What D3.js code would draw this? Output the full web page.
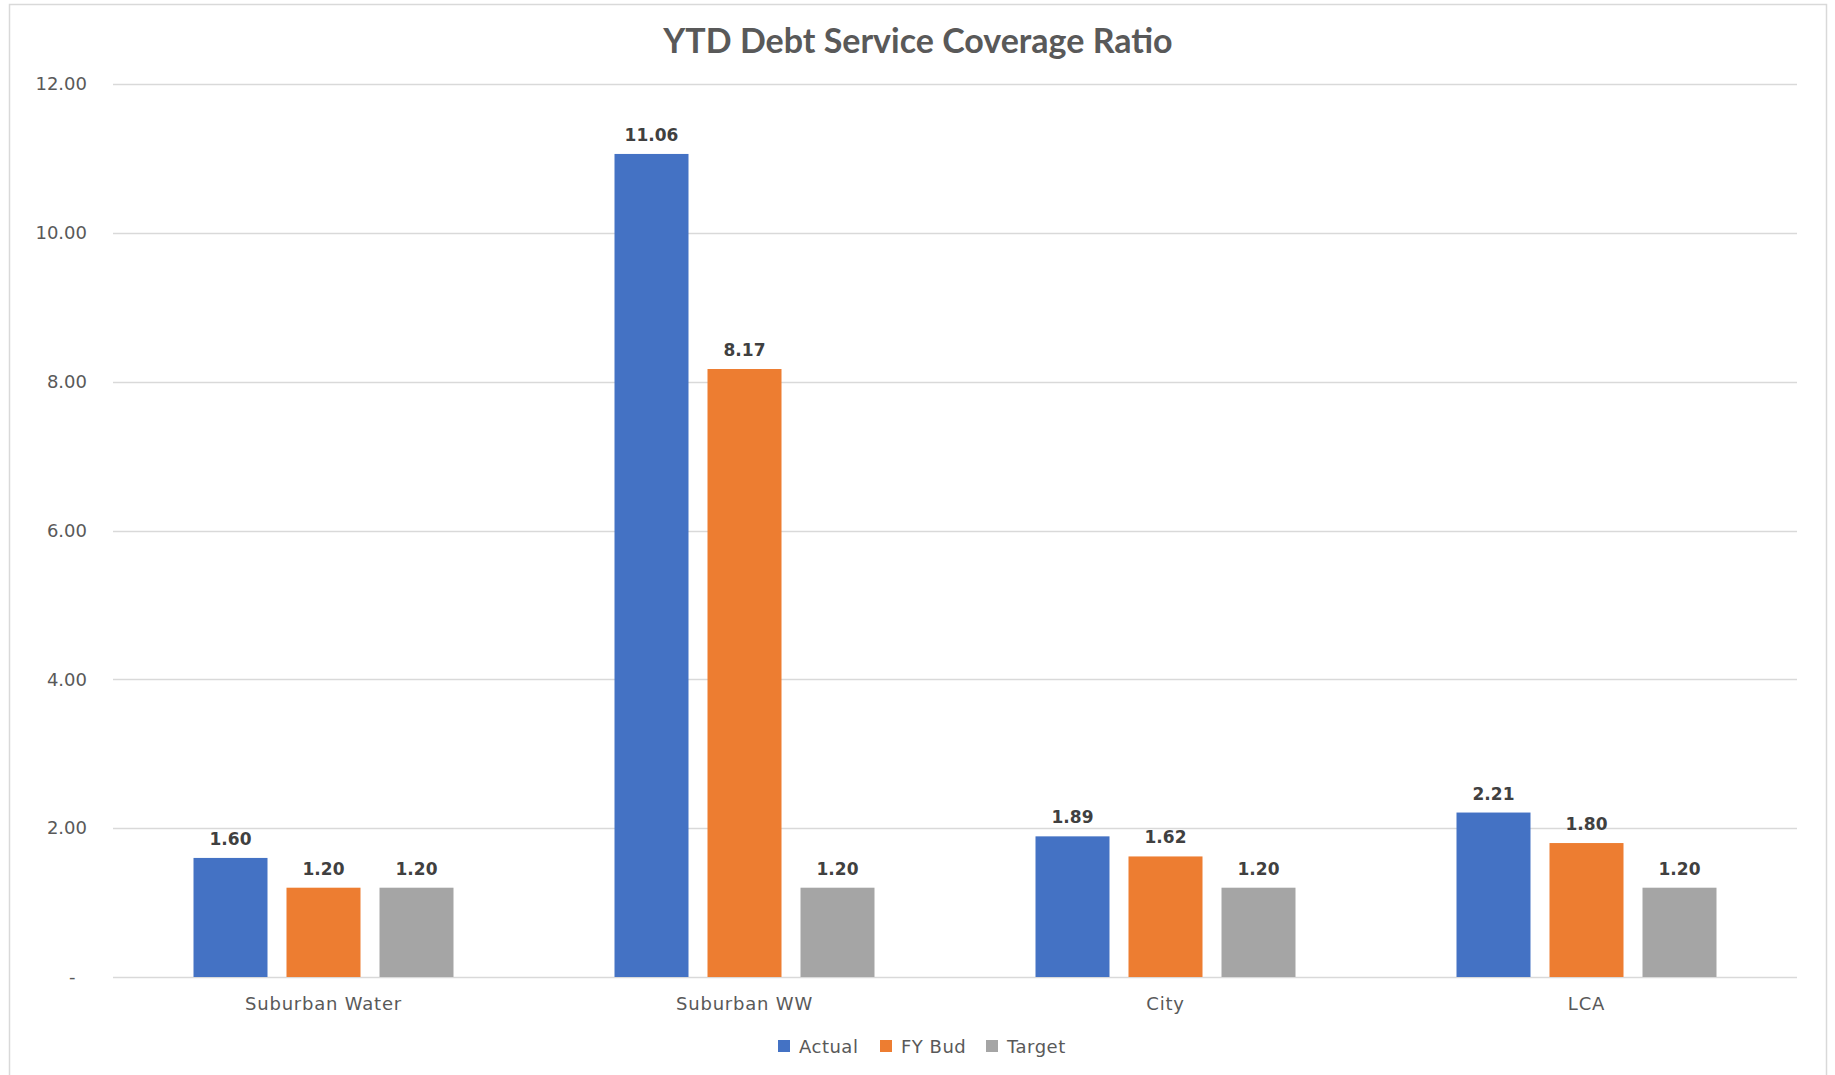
<!DOCTYPE html>
<html>
<head>
<meta charset="utf-8">
<script src="https://cdn.jsdelivr.net/npm/d3@7"></script>
<style>
  html, body { margin: 0; padding: 0; background: #fff; }
  #chart { width: 1835px; height: 1075px; }
</style>
</head>
<body>
<div id="chart"></div>
<script>
const categories = ['Suburban Water', 'Suburban WW', 'City', 'LCA'];
const seriesNames = ['Actual', 'FY Bud', 'Target'];
const actual = [1.60, 11.06, 1.89, 2.21];
const fyBud = [1.20, 8.17, 1.62, 1.80];
const target = [1.20, 1.20, 1.20, 1.20];
const yTicks = [0, 2, 4, 6, 8, 10, 12];
const colors = ['#4472C4', '#ED7D31', '#A5A5A5'];

const width = 1835;
const height = 1075;
const plotLeft = 113;
const plotRight = 1797;
const plotTop = 84;
const plotBottom = 977;
const groupWidth = 3 * 93 - 19;

const seriesValues = [actual, fyBud, target];

const svg = d3.select('#chart')
  .append('svg')
  .attr('width', width)
  .attr('height', height);

// chart frame
svg.append('rect')
  .attr('x', 9.5)
  .attr('y', 4.5)
  .attr('width', 1817)
  .attr('height', 1100)
  .attr('fill', 'none')
  .attr('stroke', '#D9D9D9')
  .attr('stroke-width', 1.5);

svg.append('text')
  .attr('x', 918)
  .attr('y', 53)
  .attr('text-anchor', 'middle')
  .attr('font-family', 'Lato, sans-serif')
  .attr('font-weight', 'bold')
  .attr('font-size', '34px')
  .attr('fill', '#595959')
  .text('YTD Debt Service Coverage Ratio');

const y = d3.scaleLinear()
  .domain([0, 12])
  .range([plotBottom, plotTop]);

const x0 = d3.scaleBand()
  .domain(categories)
  .range([plotLeft, plotRight]);

const x1 = d3.scaleBand()
  .domain(seriesNames)
  .range([0, groupWidth])
  .paddingInner(19 / 93);

// gridlines
svg.append('g')
  .selectAll('line')
  .data(yTicks)
  .enter()
  .append('line')
  .attr('x1', plotLeft)
  .attr('x2', plotRight)
  .attr('y1', function(d) { return Math.round(y(d)) + 0.5; })
  .attr('y2', function(d) { return Math.round(y(d)) + 0.5; })
  .attr('stroke', '#D9D9D9')
  .attr('stroke-width', 1.5);

// y axis labels
const yAxis = d3.axisLeft(y)
  .tickValues(yTicks)
  .tickSize(0)
  .tickPadding(0)
  .tickFormat(function(d) { return d === 0 ? '-  ' : d3.format('.2f')(d); });

const yAxisG = svg.append('g')
  .attr('transform', 'translate(87,0)')
  .call(yAxis);
yAxisG.select('.domain').remove();
yAxisG.selectAll('text')
  .attr('font-family', '"DejaVu Sans", sans-serif')
  .attr('font-size', '18px')
  .attr('fill', '#595959')
  .style('white-space', 'pre');

// bars
const groups = svg.append('g')
  .selectAll('g')
  .data(categories)
  .enter()
  .append('g')
  .attr('transform', function(d) {
    return 'translate(' + (x0(d) + (x0.bandwidth() - groupWidth) / 2) + ',0)';
  });

groups.selectAll('rect')
  .data(function(d, i) {
    return seriesNames.map(function(s, j) { return {series: s, value: seriesValues[j][i], idx: j}; });
  })
  .enter()
  .append('rect')
  .attr('x', function(d) { return x1(d.series); })
  .attr('y', function(d) { return y(d.value); })
  .attr('width', x1.bandwidth())
  .attr('height', function(d) { return y(0) - y(d.value); })
  .attr('fill', function(d) { return colors[d.idx]; });

groups.selectAll('text')
  .data(function(d, i) {
    return seriesNames.map(function(s, j) { return {series: s, value: seriesValues[j][i]}; });
  })
  .enter()
  .append('text')
  .attr('x', function(d) { return x1(d.series) + x1.bandwidth() / 2; })
  .attr('y', function(d) { return y(d.value) - 13; })
  .attr('text-anchor', 'middle')
  .attr('font-family', '"DejaVu Sans", sans-serif')
  .attr('font-weight', 'bold')
  .attr('font-size', '17px')
  .attr('fill', '#404040')
  .text(function(d) { return d3.format('.2f')(d.value); });

// category labels
const xAxis = d3.axisBottom(x0).tickSize(0).tickPadding(0);
const xAxisG = svg.append('g')
  .attr('transform', 'translate(0,' + 997 + ')')
  .call(xAxis);
xAxisG.select('.domain').remove();
xAxisG.selectAll('text')
  .attr('font-family', '"DejaVu Sans", sans-serif')
  .attr('font-size', '18px')
  .attr('letter-spacing', '0.8px')
  .attr('fill', '#595959');

// legend
const legendX = [778, 880, 986];
const legend = svg.append('g')
  .selectAll('g')
  .data(seriesNames)
  .enter()
  .append('g')
  .attr('transform', function(d, i) { return 'translate(' + legendX[i] + ',1040)'; });

legend.append('rect')
  .attr('width', 12)
  .attr('height', 12)
  .attr('fill', function(d, i) { return colors[i]; });

legend.append('text')
  .attr('x', 21)
  .attr('y', 13)
  .attr('font-family', '"DejaVu Sans", sans-serif')
  .attr('font-size', '18px')
  .attr('letter-spacing', '0.5px')
  .attr('fill', '#595959')
  .text(function(d) { return d; });
</script>
</body>
</html>
